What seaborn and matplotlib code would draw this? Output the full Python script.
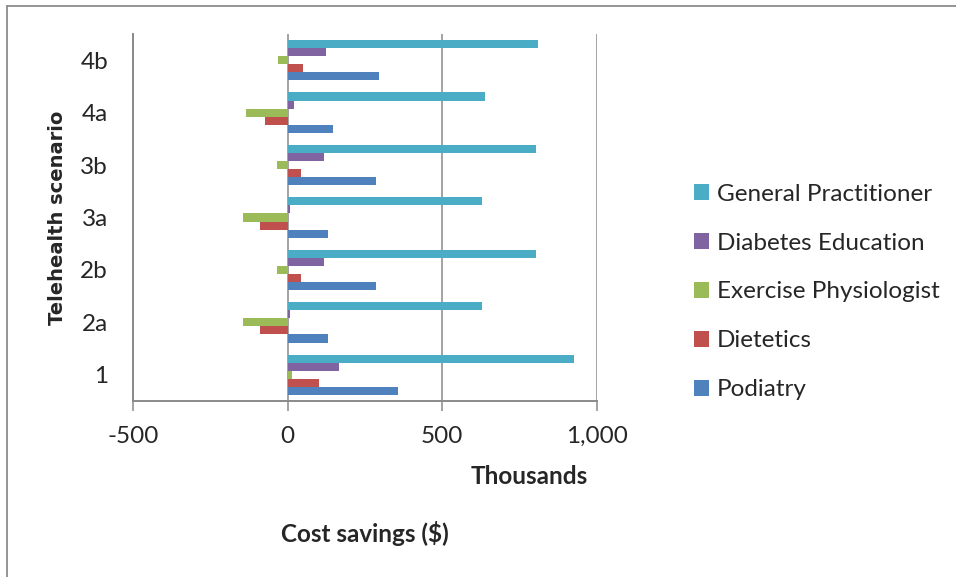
import matplotlib
matplotlib.use("Agg")
import matplotlib.pyplot as plt
from matplotlib.lines import Line2D
from matplotlib.ticker import FuncFormatter
import numpy as np
import pandas as pd
import seaborn as sns

# Telehealth scenarios (top to bottom) and cost savings in thousands of dollars
scenarios = ["4b", "4a", "3b", "3a", "2b", "2a", "1"]
general_practitioner = [808, 637, 804, 627, 804, 627, 925]
diabetes_education = [124, 19, 118, 8, 118, 8, 166]
exercise_physiologist = [-30, -135, -35, -145, -35, -145, 13]
dietetics = [49, -74, 43, -88, 43, -88, 102]
podiatry = [296, 145, 287, 130, 287, 130, 358]

services = ["General Practitioner", "Diabetes Education", "Exercise Physiologist",
            "Dietetics", "Podiatry"]
service_values = [general_practitioner, diabetes_education, exercise_physiologist,
                  dietetics, podiatry]
palette = ["#4BACC6", "#8064A2", "#9BBB59", "#C0504D", "#4F81BD"]

x_ticks = [-500, 0, 500, 1000]

df = pd.DataFrame({
    "Scenario": scenarios * len(services),
    "Service": [s for s in services for _ in scenarios],
    "Savings": [v for vals in service_values for v in vals],
})

sns.set_style("white")
plt.rcParams["font.family"] = ["Lato", "DejaVu Sans"]

W, H = 956, 577
fig = plt.figure(figsize=(W / 100, H / 100), dpi=100)
ax = fig.add_axes([133 / W, 1 - 401 / H, 464 / W, 367 / H])

sns.barplot(data=df, y="Scenario", x="Savings", hue="Service",
            order=scenarios, hue_order=services, palette=palette,
            orient="h", width=0.77, linewidth=0, saturation=1,
            errorbar=None, ax=ax)

grid_color = "#8a8a8a"
ax.set_xlim(-500, 1000)
ax.set_xticks(x_ticks)
ax.xaxis.set_major_formatter(FuncFormatter(lambda v, p: f"{int(v):,}"))
ax.set_axisbelow(True)
ax.grid(axis="x", color=grid_color, linewidth=1.1)
ax.grid(axis="y", visible=False)
for side in ["top", "right"]:
    ax.spines[side].set_visible(False)
for side in ["left", "bottom"]:
    ax.spines[side].set_color(grid_color)
    ax.spines[side].set_linewidth(1.4)

ax.tick_params(axis="x", length=7, width=1.1, color=grid_color, pad=11,
               labelsize=17.5, direction="out", bottom=True)
ax.tick_params(axis="y", length=0, pad=18, labelsize=17.5)

ax.set_xlabel("")
ax.set_ylabel("")
fig.text(58 / W, 1 - 218 / H, "Telehealth scenario", rotation=90, ha="center",
         va="center", fontsize=14, fontweight="bold", family="DejaVu Sans")

fig.text(529 / W, 1 - 476 / H, "Thousands", ha="center", va="center",
         fontsize=17.5, fontweight="bold")
fig.text(365 / W, 1 - 533 / H, "Cost savings ($)", ha="center", va="center",
         fontsize=17.5, fontweight="bold")

sns.move_legend(ax, "center left", bbox_to_anchor=((694 - 133) / 464, (401 - 292) / 367),
                frameon=False, title=None, fontsize=17.5, handlelength=0.6,
                handleheight=0.6, handletextpad=0.35, labelspacing=1.15,
                borderpad=0, borderaxespad=0)

# chart area border (left and top edges)
border_color = "#8c8c8c"
fig.add_artist(Line2D([6.5 / W, 6.5 / W], [0, 1 - 5.5 / H], color=border_color,
                      linewidth=1.3, transform=fig.transFigure))
fig.add_artist(Line2D([6.5 / W, 1], [1 - 5.5 / H, 1 - 5.5 / H], color=border_color,
                      linewidth=1.3, transform=fig.transFigure))

fig.savefig("out.png", dpi=100)
